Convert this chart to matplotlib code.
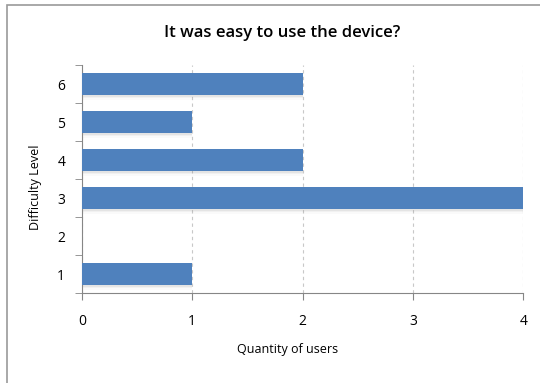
import numpy as np
import matplotlib
matplotlib.use("Agg")
import matplotlib.pyplot as plt
from matplotlib.patches import Rectangle

# data
levels = [1, 2, 3, 4, 5, 6]
users = [1, 0, 4, 2, 1, 2]
xticks = [0, 1, 2, 3, 4]

plt.rcParams['font.family'] = ['Open Sans', 'DejaVu Sans']

fig = plt.figure(figsize=(5.4, 3.83), dpi=100)
ax = fig.add_axes([0.1515, 0.2345, 0.8177, 0.5953])

bar_h = 0.57
# soft shadow under the bars
for k, a in enumerate([0.10, 0.07, 0.04]):
    ax.barh(np.array(levels) - 0.04 * (k + 1), users, height=bar_h,
            color='gray', alpha=a, zorder=2, linewidth=0)
ax.barh(levels, users, height=bar_h, color='#4F81BD', zorder=3, linewidth=0)

ax.set_xlim(0, 4)
ax.set_ylim(0.5, 6.5)
ax.set_xticks(xticks)
ax.set_yticks(levels)
ax.set_yticks(np.arange(0.5, 6.6, 1), minor=True)
ax.tick_params(axis='y', which='major', length=0, pad=12, labelsize=10)
ax.tick_params(axis='y', which='minor', length=5, color='#868686', direction='out')
ax.tick_params(axis='x', length=5, color='#868686', pad=10, labelsize=10)

ax.grid(axis='x', linestyle=(0, (3, 3)), color='#c8c8c8', linewidth=0.8, zorder=0)
for s in ['top', 'right']:
    ax.spines[s].set_visible(False)
for s in ['left', 'bottom']:
    ax.spines[s].set_color('#868686')

ax.set_xlabel('Quantity of users', fontsize=9, va='center')
ax.xaxis.set_label_coords(0.467, -0.246)
ax.set_ylabel('Difficulty Level', fontsize=9, va='center')
ax.yaxis.set_label_coords(-0.105, 0.465)
fig.text(0.523, 0.915, 'It was easy to use the device?', ha='center', va='center',
         fontsize=12, fontweight='semibold')

# outer chart border
fig.patches.append(Rectangle((6.5 / 540, -0.05), 1.1, 1 - 5.5 / 383 + 0.05,
                             transform=fig.transFigure, fill=False,
                             edgecolor='#9a9a9a', linewidth=1.2))

fig.savefig('out.png', dpi=100)
